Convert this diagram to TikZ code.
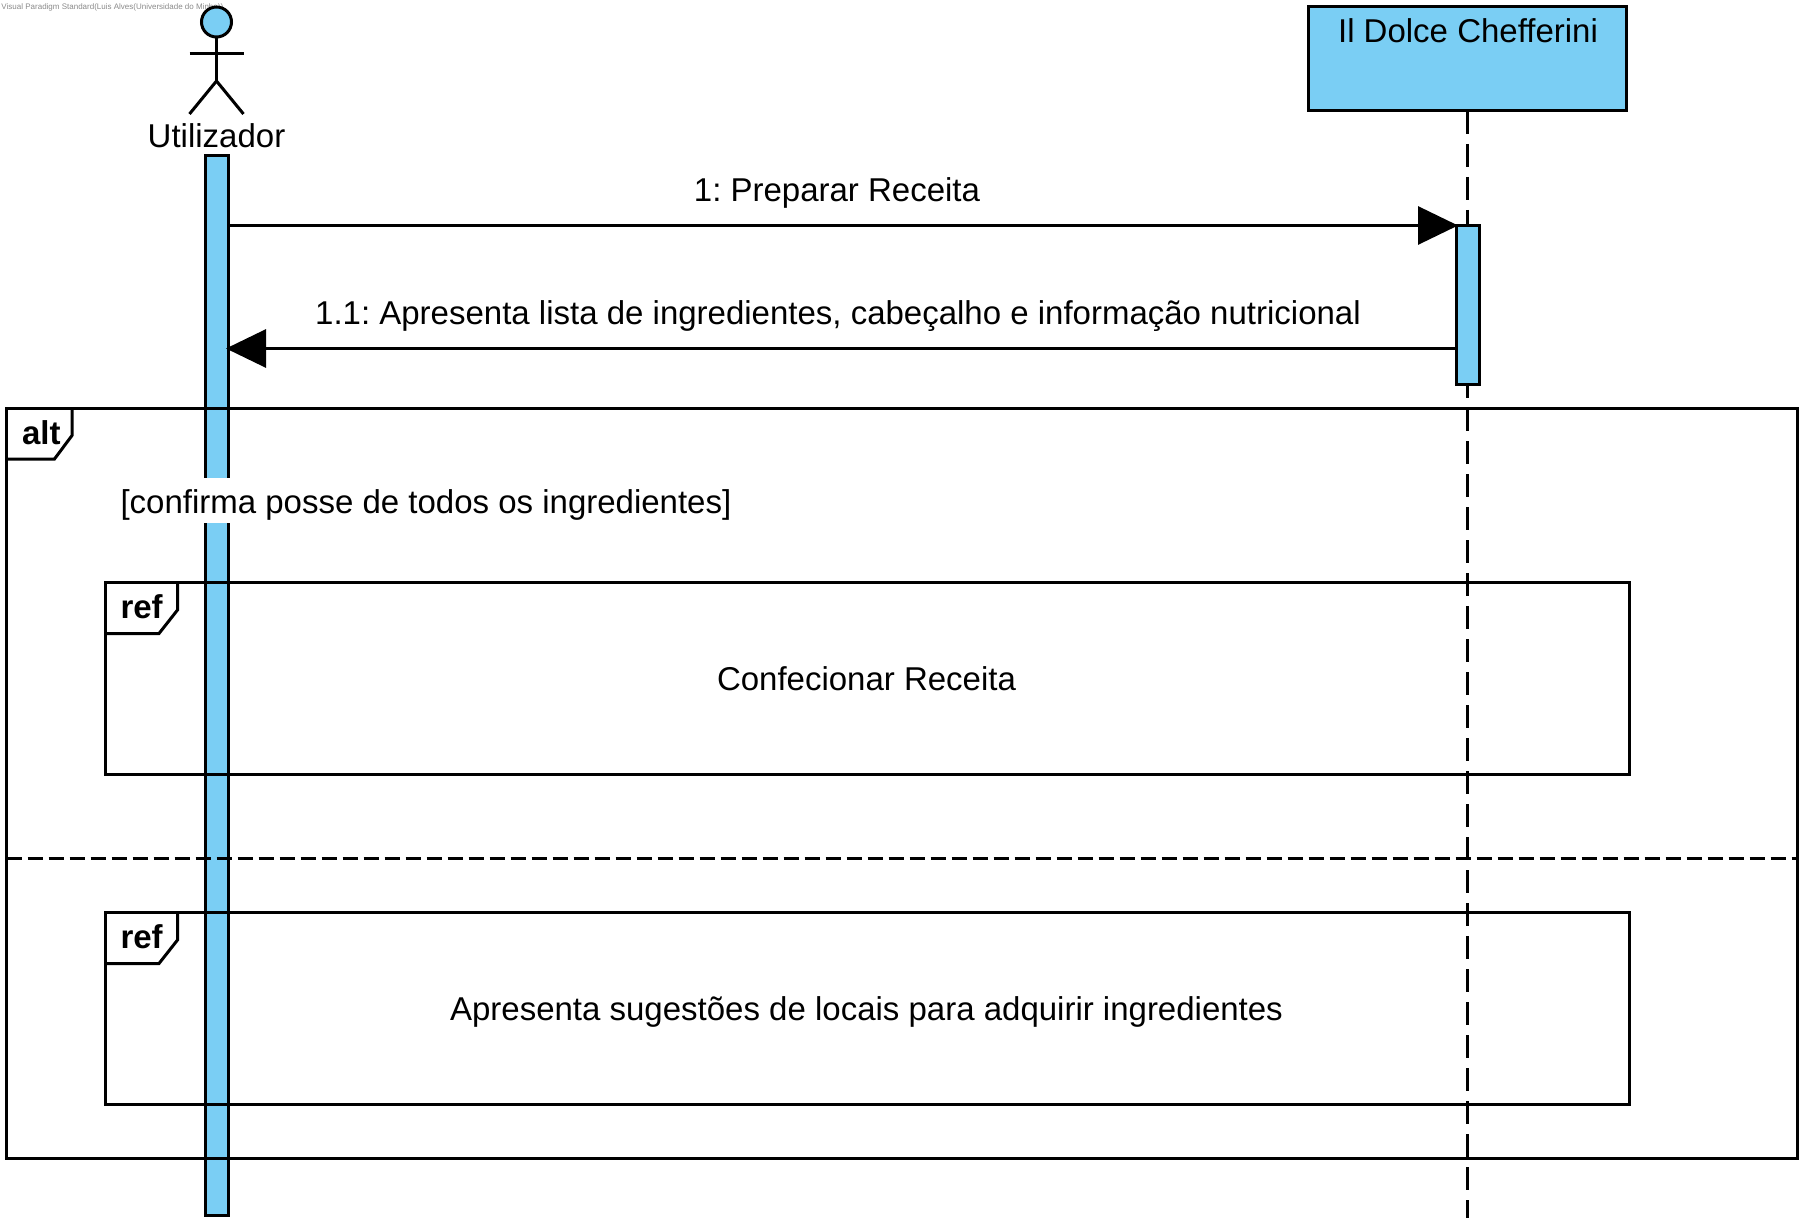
\documentclass[tikz,border=0pt]{standalone}
\usepackage{fontspec}
\setmainfont{Liberation Sans}
\usetikzlibrary{calc, arrows.meta}
\definecolor{barblue}{HTML}{7ACEF4}
\definecolor{stampgray}{HTML}{8A8A8A}

\begin{document}
\frenchspacing
\begin{tikzpicture}[
    x=1pt, y=-1pt,
    >={Triangle[length=40pt, width=38pt]},
    line width=3pt,
    font=\fontsize{33}{40}\selectfont,
    bar/.style={draw=black, fill=barblue, rectangle, inner sep=0pt, outer sep=0pt, minimum width=23pt},
    framebox/.style={draw=black, rectangle, inner sep=0pt, outer sep=0pt},
    label/.style={anchor=base, inner sep=0pt},
    tablabel/.style={anchor=base west, inner sep=0pt, font=\fontsize{33}{40}\selectfont\bfseries},
    msg/.style={->, shorten >=-2pt}
]
    \useasboundingbox (0,0) rectangle (1809,1230);

    % Grid alignment:
    % Utilizador lifeline at x = 216.5
    % Il Dolce Chefferini lifeline at x = 1467.5
    % Messages at y = 225.5 and y = 348.5

    % 1. Stamp
    \node[anchor=base west, inner sep=0pt, text=stampgray, font=\fontsize{8}{10}\selectfont] (stamp) at (0, 10) {Visual Paradigm Standard(Luis Alves(Universidade do Minho))};

    % 2. Actor
    \node[draw=black, fill=barblue, circle, inner sep=0pt, outer sep=0pt, minimum size=30pt] (head) at (216.5, 22) {};
    \coordinate (hip) at (216.5, 81);
    \coordinate (armleft) at (189.5, 54);
    \coordinate (armright) at (243.5, 54);
    \coordinate (footleft) at (189.5, 114);
    \coordinate (footright) at (243.5, 114);
    \draw (head.south) -- (hip);
    \draw (armleft) -- (armright);
    \draw (footleft) -- (hip) -- (footright);
    \node[label] (actorname) at (216.5, 147.5) {Utilizador};

    % 3. Lifelines
    \node[bar, minimum height=1059pt] (userbar) at (216.5, 685.5) {};
    \node[draw=black, fill=barblue, rectangle, inner sep=0pt, outer sep=0pt, minimum width=318pt, minimum height=104.5pt] (chefbox) at (1467, 58.75) {};
    \node[label] (chefname) at (1468, 43) {Il Dolce Chefferini};
    \coordinate (chefend) at (1467.5, 1218);
    \draw[dash pattern=on 23pt off 10pt] (chefend |- chefbox.south) -- (chefend);
    \node[bar, minimum height=158.5pt] (chefbar) at (1467.5, 305) {};

    % 4. Messages
    \coordinate (msgone) at (0, 225.5);
    \coordinate (msgtwo) at (0, 348.5);
    \draw[msg] (userbar.east |- msgone) -- (chefbar.west |- msgone);
    \node[label] (msgonetext) at (837, 202) {1: Preparar Receita};
    \draw[msg] (chefbar.west |- msgtwo) -- (userbar.east |- msgtwo);
    \node[label] (msgtwotext) at (838, 325) {1.1: Apresenta lista de ingredientes, cabeçalho e informação nutricional};

    % 5. Alt frame
    \node[framebox, minimum width=1790.5pt, minimum height=750pt] (altframe) at (901.75, 783) {};
    \draw (altframe.north west) ++(65.5, 0) -- ++(0, 27.5) -- ++(-17.5, 23.5) -- ++(-48, 0);
    \node[tablabel] (alttext) at (20.5, 444) {alt};
    \coordinate (sepleft) at (altframe.west |- 0, 858.5);
    \coordinate (sepright) at (altframe.east |- 0, 858.5);
    \draw[dash pattern=on 15pt off 6pt] (sepleft) -- (sepright);

    % Guard
    \node[anchor=base west, fill=white, inner sep=0pt, inner xsep=2pt, text height=35.5pt, text depth=9pt] (guard) at (117, 513.5) {[confirma posse de todos os ingredientes]};

    % 6. Ref frames
    \foreach \name/\top/\txt/\cap in {refone/582/Confecionar Receita/690, reftwo/912/Apresenta sugestões de locais para adquirir ingredientes/1020} {
        \node[framebox, minimum width=1524pt, minimum height=192pt, anchor=north west] (\name) at (105.5, \top) {};
        \draw (\name.north west) ++(72, 0) -- ++(0, 28) -- ++(-18.5, 23.5) -- ++(-53.5, 0);
        \node[tablabel] (\name tab) at (119, \top+36.5) {ref};
        \node[label] (\name text) at (866.5, \cap) {\txt};
    }
\end{tikzpicture}
\end{document}
